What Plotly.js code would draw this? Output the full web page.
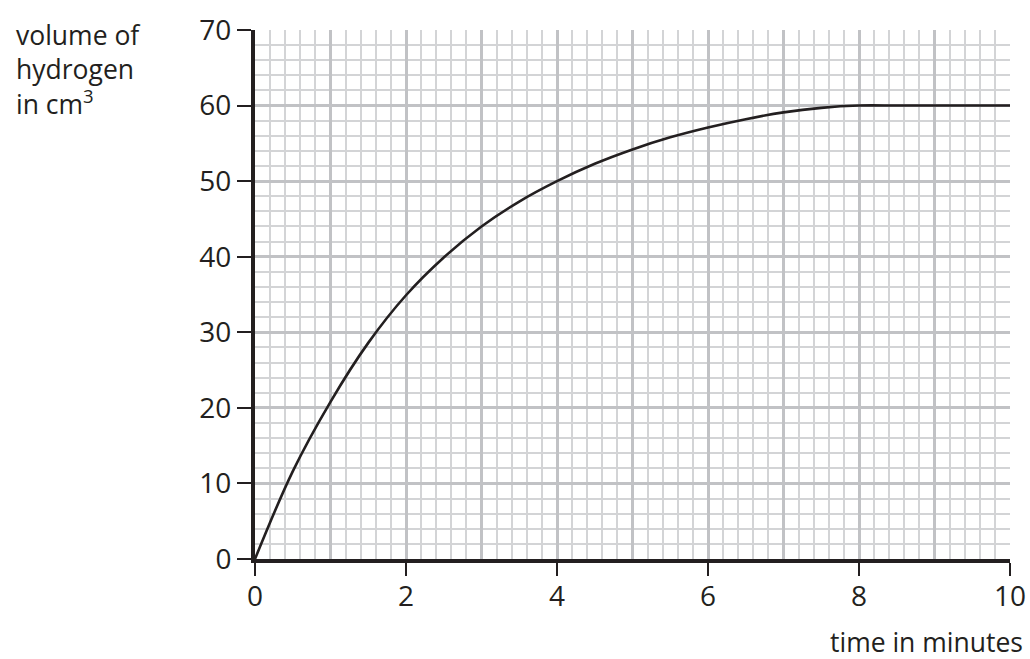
<!DOCTYPE html>
<html>
<head>
<meta charset="utf-8">
<script src="https://cdn.plot.ly/plotly-3.0.1.min.js"></script>
<style>html,body{margin:0;padding:0;background:#fff;}#chart{width:1030px;height:659px;}</style>
</head>
<body>
<div id="chart"></div>
<script>
// time in minutes
const timeMin = [0, 0.5, 1, 1.5, 2, 2.5, 3, 3.5, 4, 4.5, 5, 5.5, 6, 6.5, 7, 7.5, 8, 8.5, 9, 9.5, 10];
// volume of hydrogen in cm3
const volumeH2 = [0, 11.6, 20.8, 28.6, 34.9, 39.9, 44.0, 47.3, 50.0, 52.3, 54.2, 55.8, 57.1, 58.2, 59.1, 59.7, 60, 60, 60, 60, 60];
const xTickVals = [0, 2, 4, 6, 8, 10];
const xTickText = ['0', '2', '4', '6', '8', '10'];
const yTickVals = [0, 10, 20, 30, 40, 50, 60, 70];
const yTickText = ['0', '10', '20', '30', '40', '50', '60', '70'];
const yTitle = 'volume of<br>hydrogen<br>in cm<sup>3</sup>';
const xTitle = 'time in minutes';

const FONT = '"Open Sans", "DejaVu Sans", sans-serif';
const TXT = '#231f20';
const MAJOR = '#c1c2c5';
const MINOR = '#d3d4d6';

const traces = [
  {x: timeMin, y: volumeH2, xaxis: 'x2', yaxis: 'y', mode: 'lines',
   line: {color: 'rgba(0,0,0,0)', width: 0}, hoverinfo: 'skip', showlegend: false},
  {x: timeMin, y: volumeH2, xaxis: 'x', yaxis: 'y', mode: 'lines',
   line: {color: TXT, width: 2.6, shape: 'spline', smoothing: 1}, showlegend: false}
];

const annotations = [
  {xref: 'paper', yref: 'paper', x: -0.319, y: 1.029, xanchor: 'left', yanchor: 'top',
   align: 'left', showarrow: false, text: yTitle,
   font: {family: FONT, size: 26.5, color: TXT}},
  {xref: 'paper', yref: 'paper', x: 1.0199, y: -0.157, xanchor: 'right', yanchor: 'middle',
   showarrow: false, text: xTitle, font: {family: FONT, size: 26.5, color: TXT}}
];

const layout = {
  width: 1030, height: 659,
  margin: {l: 255, r: 20, t: 30, b: 100},
  paper_bgcolor: '#fff', plot_bgcolor: '#fff',
  font: {family: FONT, color: TXT, size: 28},
  showlegend: false,
  xaxis: {
    range: [0, 10], tickmode: 'array', tickvals: xTickVals, ticktext: xTickText,
    ticks: 'outside', ticklen: 13, tickwidth: 2, tickcolor: TXT, ticklabelstandoff: -4,
    showgrid: false, zeroline: false,
    showline: true, linecolor: TXT, linewidth: 4,
    tickfont: {family: FONT, size: 28, color: TXT}, fixedrange: true, layer: 'above traces'
  },
  xaxis2: {
    range: [0, 10], overlaying: 'x', anchor: 'y', side: 'bottom',
    tickmode: 'linear', tick0: 0, dtick: 1, showticklabels: false, ticks: '',
    showgrid: true, gridcolor: MAJOR, gridwidth: 3, zeroline: false, showline: false,
    minor: {tick0: 0, dtick: 0.2, showgrid: true, gridcolor: MINOR, gridwidth: 2, ticks: ''},
    fixedrange: true
  },
  yaxis: {
    range: [0, 70], tickmode: 'array', tickvals: yTickVals, ticktext: yTickText,
    ticks: 'outside', ticklen: 14, tickwidth: 2, tickcolor: TXT,
    showgrid: true, gridcolor: MAJOR, gridwidth: 3, zeroline: false,
    minor: {tick0: 0, dtick: 2, showgrid: true, gridcolor: MINOR, gridwidth: 2, ticks: ''},
    showline: true, linecolor: TXT, linewidth: 4,
    tickfont: {family: FONT, size: 28, color: TXT}, fixedrange: true, layer: 'above traces'
  },
  annotations: annotations
};

Plotly.newPlot('chart', traces, layout, {displayModeBar: false, staticPlot: true});
</script>
</body>
</html>
